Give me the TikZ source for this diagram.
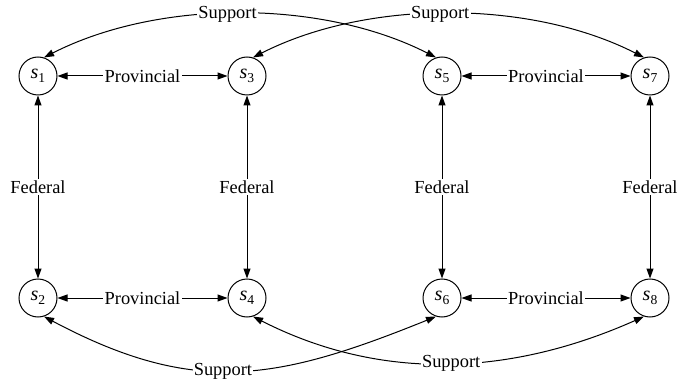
\documentclass[tikz,border=0pt]{standalone}
\usepackage{fontspec}
\setmainfont{Liberation Serif}
\usetikzlibrary{arrows.meta}
\newcommand\stlbl[1]{{\fontsize{10}{11}\selectfont\textit{s}}\raisebox{-0.45ex}{\fontsize{6.8}{7}\selectfont #1}}
\begin{document}
\begin{tikzpicture}[x=0.5pt,y=0.5pt,
  font=\fontsize{9.2}{11}\selectfont,
  state/.style={draw,circle,line width=0.5pt,minimum size=19pt,inner sep=0pt},
  edge/.style={line width=0.5pt,<->,>={Triangle[length=5pt,width=3.5pt]}},
  lbl/.style={fill=white,inner sep=0.6pt}]
\useasboundingbox (0,0) rectangle (678,380);
\node[state] (s1) at (38,304) {\stlbl{1}};
\node[state] (s3) at (247,304) {\stlbl{3}};
\node[state] (s5) at (442,304) {\stlbl{5}};
\node[state] (s7) at (650,304) {\stlbl{7}};
\node[state] (s2) at (38,82) {\stlbl{2}};
\node[state] (s4) at (247,82) {\stlbl{4}};
\node[state] (s6) at (442,82) {\stlbl{6}};
\node[state] (s8) at (650,82) {\stlbl{8}};
% provincial
\draw[edge] (s1) -- node[lbl]{Provincial} (s3);
\draw[edge] (s5) -- node[lbl]{Provincial} (s7);
\draw[edge] (s2) -- node[lbl]{Provincial} (s4);
\draw[edge] (s6) -- node[lbl]{Provincial} (s8);
% federal
\draw[edge] (s1) -- node[lbl]{Federal} (s2);
\draw[edge] (s3) -- node[lbl]{Federal} (s4);
\draw[edge] (s5) -- node[lbl]{Federal} (s6);
\draw[edge] (s7) -- node[lbl]{Federal} (s8);
% support
\draw[edge] (s1.72) to[out=27,in=153,looseness=0.84] node[lbl,pos=0.47]{Support} (s5.108);
\draw[edge] (s3.72) to[out=27,in=153,looseness=0.84] node[lbl,pos=0.48]{Support} (s7.108);
\draw[edge] (s2.-72) to[out=-28,in=-158,looseness=1.12] node[lbl,pos=0.46]{Support} (s6.-108);
\draw[edge] (s4.-72) to[out=-27,in=-156,looseness=0.95] node[lbl,pos=0.51]{Support} (s8.-108);
\end{tikzpicture}
\end{document}
